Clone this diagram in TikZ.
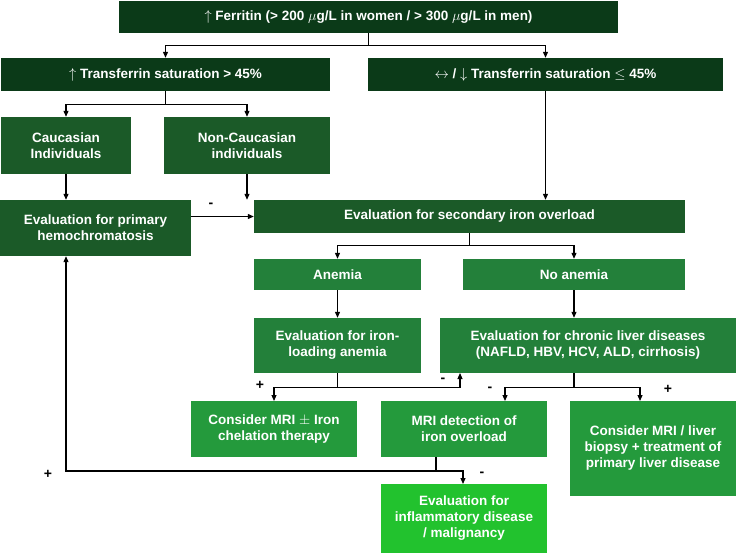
\documentclass[tikz,border=0pt]{standalone}
\usepackage{fontspec}
\setmainfont{Liberation Sans}
\usetikzlibrary{arrows.meta}
\definecolor{cA}{HTML}{0B3A18}
\definecolor{cB}{HTML}{1B5A28}
\definecolor{cC}{HTML}{23803A}
\definecolor{cD}{HTML}{249A3C}
\definecolor{cE}{HTML}{22C22E}
\begin{document}
\begin{tikzpicture}[x=1pt,y=-1pt,
  box/.style={draw=none,text=white,font=\fontsize{13.5}{16}\selectfont\bfseries,align=center,inner sep=0pt},
  ar/.style={-{Triangle[length=6pt,width=5pt]},line width=1.1pt},
  ln/.style={line width=1.1pt},
  lab/.style={font=\fontsize{14}{16}\selectfont\bfseries}]
\useasboundingbox (0,0) rectangle (738,557);
\newcommand{\bx}[8]{\node[box,fill=#6,minimum width=#4-#2,minimum height=#5-#3] (#1) at ({(#2+#4)/2},{(#3+#5)/2}) {#7};}
\bx{fer}{119}{1}{618}{33}{cA}{$\uparrow$ Ferritin (> 200 $\mu$g/L in women / > 300 $\mu$g/L in men)}{}
\bx{tsh}{1}{58}{330}{91}{cA}{$\uparrow$ Transferrin saturation > 45\%}{}
\bx{tsl}{368}{58}{723}{91}{cA}{$\leftrightarrow$ / $\downarrow$ Transferrin saturation $\leq$ 45\%}{}
\bx{cau}{1}{117}{131}{174}{cB}{Caucasian\\Individuals}{}
\bx{ncau}{164}{117}{330}{174}{cB}{Non-Caucasian\\individuals}{}
\bx{prim}{0}{200}{191}{256}{cB}{Evaluation for primary\\hemochromatosis}{}
\bx{sec}{254}{200}{685}{233}{cB}{Evaluation for secondary iron overload}{}
\bx{ane}{254}{259}{421}{290}{cC}{Anemia}{}
\bx{noa}{463}{259}{685}{290}{cC}{No anemia}{}
\bx{ila}{254}{318}{421}{373}{cC}{Evaluation for iron-\\loading anemia}{}
\bx{cld}{440}{318}{736}{373}{cC}{Evaluation for chronic liver diseases\\(NAFLD, HBV, HCV, ALD, cirrhosis)}{}
\bx{chel}{191}{401}{357}{457}{cD}{Consider MRI $\pm$ Iron\\chelation therapy}{}
\bx{mri}{381}{401}{547}{457}{cD}{MRI detection of\\iron overload}{}
\bx{liv}{570}{401}{736}{496}{cD}{Consider MRI / liver\\biopsy + treatment of\\primary liver disease}{}
\bx{inf}{381}{484}{547}{553}{cE}{Evaluation for\\inflammatory disease\\/ malignancy}{}
% connectors
\draw[ln] (fer.south) -- ++(0,12) coordinate (f1);
\draw[ar] (f1) -| (tsh.north);
\draw[ar] (f1) -| (tsl.north);
\draw[ln] (tsh.south) -- ++(0,13) coordinate (t1);
\draw[ar] (t1) -| (cau.north);
\draw[ar] (t1) -| (ncau.north);
\draw[ar] (cau.south) -- (prim.north -| cau.south);
\draw[ar] (ncau.south) -- (ncau.south |- sec.north);
\draw[ar] (tsl.south) -- (tsl.south |- sec.north);
\draw[ar] (prim.east |- sec.west) -- (sec.west);
\node[lab] at (211,205) {-};
\draw[ln] (sec.south) ++(0,0) -- ++(0,12) coordinate (s1);
\draw[ar] (s1) -| (ane.north);
\draw[ar] (s1) -| (noa.north);
\draw[ar] (ane.south) -- (ila.north);
\draw[ar] (noa.south) -- (noa.south |- cld.north);
\draw[ln] (ila.south) -- ++(0,14) coordinate (i1);
\coordinate (c1) at (460,373);
\coordinate (m1) at (274,401);
\draw[ar] (i1) -| (m1);
\draw[ar] (i1) -| (c1);
\node[lab] at (260,385) {+};
\node[lab] at (443,380) {-};
\draw[ln] (noa.south |- cld.south) -- ++(0,14) coordinate (l1);
\coordinate (m2) at (505,401);
\coordinate (m3) at (640,401);
\draw[ar] (l1) -| (m2);
\draw[ar] (l1) -| (m3);
\node[lab] at (490,389) {-};
\node[lab] at (668,389) {+};
\draw[ln] (mri.south -| 436,0) -- (436,471) coordinate (r1);
\coordinate (p1) at (463,484);
\draw[ar] (r1) -| (p1);
\draw[ar] (r1) -| (prim.south -| cau.south);
\node[lab] at (482,474) {-};
\node[lab] at (48,474) {+};
\end{tikzpicture}
\end{document}
